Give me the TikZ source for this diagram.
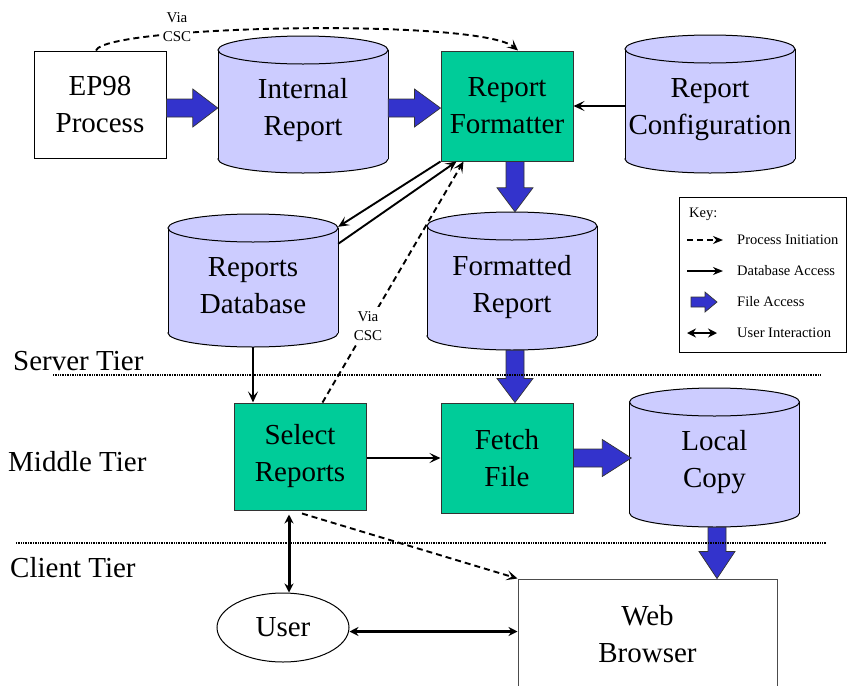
\documentclass[tikz,border=0pt]{standalone}
\usepackage{fontspec}
\setmainfont{Liberation Serif}
\usetikzlibrary{shapes.geometric,arrows.meta,calc}
\definecolor{lav}{HTML}{CCCCFF}
\definecolor{grn}{HTML}{00CC99}
\definecolor{blu}{HTML}{3333CC}
\newcommand\blkH[5]{\filldraw[blk] ($#1+(0,-#3)$) -- ($#2+(-#5,-#3)$) -- ($#2+(-#5,-#4)$) -- #2 -- ($#2+(-#5,#4)$) -- ($#2+(-#5,#3)$) -- ($#1+(0,#3)$) -- cycle;}
\newcommand\blkV[5]{\filldraw[blk] ($#1+(-#3,0)$) -- ($#2+(-#3,-#5)$) -- ($#2+(-#4,-#5)$) -- #2 -- ($#2+(#4,-#5)$) -- ($#2+(#3,-#5)$) -- ($#1+(#3,0)$) -- cycle;}
\newcommand\mycyl[4]{%
  \filldraw[cylline] (#2,#4-14) ellipse [x radius=85pt, y radius=14pt];
  \fill[lav] (#2-85,#3+14) rectangle (#2+85,#4-14);
  \draw[line width=1pt] (#2-85,#3+14) -- (#2-85,#4-14) (#2+85,#3+14) -- (#2+85,#4-14);
  \filldraw[cylline] (#2,#3+14) ellipse [x radius=85pt, y radius=14pt];
  \node[cylbb, minimum height=#4-#3] (#1) at (#2,{(#3+#4)/2}) {};
}
\begin{document}
\begin{tikzpicture}[x=1pt,y=-1pt,
  big/.style={font=\fontsize{29}{37}\selectfont, align=center},
  boxg/.style={draw=black!80, fill=grn, line width=1pt, inner sep=0pt, big, minimum width=132pt},
  boxw/.style={draw=black, fill=white, line width=1pt, inner sep=0pt, big, minimum width=132pt},
  cylbb/.style={inner sep=0pt, minimum width=170pt},
  cylline/.style={draw=black, line width=1pt, fill=lav},
  conn/.style={line width=1.9pt, -{Stealth[length=11pt,width=10pt,inset=5pt]}},
  dsh/.style={conn, dash pattern=on 6pt off 4pt},
  dbl/.style={line width=3pt, {Stealth[length=9pt,width=9pt]}-{Stealth[length=9pt,width=9pt]}},
  blk/.style={fill=blu, draw=black!80, line width=0.7pt},
  tier/.style={line width=2.2pt, dash pattern=on 1pt off 0.7pt},
  small/.style={font=\fontsize{14.5}{17}\selectfont, inner sep=0pt, anchor=west},
  via/.style={font=\fontsize{15}{19}\selectfont, align=center, fill=white, inner sep=2pt}]
\useasboundingbox (0,0) rectangle (847,686);

% cylinders
\mycyl{ir}{303}{36}{173}
\mycyl{cfg}{710}{35}{173}
\mycyl{db}{253}{214}{347}
\mycyl{fr}{512}{212}{350}
\mycyl{lc}{714.5}{388}{527}
\node[big] (ir-t) at (303,110) {Internal\\Report};
\node[big] (cfg-t) at (710,110) {Report\\Configuration};
\node[big] (db-t) at (253,286) {Reports\\Database};
\node[big] (fr-t) at (512,287) {Formatted\\Report};
\node[big] (lc-t) at (714.5,462) {Local\\Copy};

% boxes
\node[boxw, minimum height=107pt] (ep) at (100,104.5) {EP98\\Process};
\node[boxg, minimum height=110pt] (rf) at (507,106) {Report\\Formatter};
\node[boxg, minimum height=107pt] (sr) at (300,456.5) {Select\\Reports};
\node[boxg, minimum height=110pt] (ff) at (507,458) {Fetch\\File};
\node[draw=black!70, line width=1pt, minimum width=259pt, minimum height=110pt, inner sep=0pt, big] (wb) at (647.5,634) {Web\\Browser};
\node[draw, ellipse, line width=1pt, minimum width=132pt, minimum height=69pt, inner sep=0pt, big] (user) at (283,627.5) {User};

% tier labels
\node[big, anchor=base west, inner sep=0pt] (st) at (13,370) {Server Tier};
\node[big, anchor=base west, inner sep=0pt] (mt) at (8,471) {Middle Tier};
\node[big, anchor=base west, inner sep=0pt] (ct) at (10,577) {Client Tier};

% helper coordinates
\coordinate (h108) at (0,108);
\coordinate (v515) at (515,0);
\coordinate (v717) at (717,0);

% file access arrows
\blkH{(ep.east |- h108)}{(ir.west |- h108)}{9}{19}{25}
\blkH{(ir.east |- h108)}{(rf.west |- h108)}{9}{19}{26}
\blkV{(v515 |- rf.south)}{(v515 |- fr.north)}{9}{18}{24}
\blkV{(v515 |- fr.south)}{(v515 |- ff.north)}{9}{18}{24}
\blkH{(ff.east)}{($(lc.west |- ff.east)+(2,0)$)}{9}{18.5}{29}
\blkV{(v717 |- lc.south)}{(v717 |- wb.north)}{9}{18}{27}

% tier lines
\draw[tier] (53,375) -- (820,375);
\draw[tier] (16,543) -- (826,543);

% database access
\draw[conn] (cfg.west |- rf.east) -- (rf.east);
\draw[conn] (rf.south west) -- ([yshift=-13pt]db.north east);
\draw[conn] ([yshift=-30pt]db.north east) -- ([xshift=16pt]rf.south west);
\draw[conn] (db.south) -- (db.south |- sr.north);
\draw[conn] (sr.east |- ff.west) -- (ff.west);

% process initiation
\draw[dsh] ([xshift=-4pt]ep.north) .. controls (105,25) and (480,18) .. ([xshift=11pt]rf.north);
\node[via] (via1) at (177,27) {Via\\CSC};
\draw[dsh] ([xshift=89pt]sr.north west) -- ([xshift=23pt]rf.south west);
\node[via, inner sep=4pt] (via2) at (368,326) {Via\\CSC};
\draw[dsh] ([xshift=2pt,yshift=-3pt]sr.south) -- (wb.north west);

% user interaction
\coordinate (u1) at ([xshift=6pt]user.north);
\coordinate (u2) at ([yshift=-4pt]user.east);
\draw[dbl, shorten <=4pt] (u1 |- sr.south) -- (u1);
\draw[dbl] (u2) -- (wb.west |- u2);

% key
\node[draw, line width=1pt, minimum width=167pt, minimum height=155pt, inner sep=0pt] (key) at (762.5,274.5) {};
\node[small] (keyt) at (689,214) {Key:};
\coordinate (k1a) at (687,240); \coordinate (k1b) at (723,240);
\coordinate (k2a) at (687,271); \coordinate (k2b) at (723,271);
\coordinate (k3a) at (691,302); \coordinate (k3b) at (717,302);
\coordinate (k4a) at (687,333); \coordinate (k4b) at (717,333);
\draw[dsh, -{Stealth[length=10pt,width=8pt]}] (k1a) -- (k1b);
\draw[conn, -{Stealth[length=10pt,width=8pt]}] (k2a) -- (k2b);
\blkH{(k3a)}{(k3b)}{5}{10}{12}
\draw[dbl, line width=2.6pt] (k4a) -- (k4b);
\node[small] (k1t) at (737,240) {Process Initiation};
\node[small] (k2t) at (737,271) {Database Access};
\node[small] (k3t) at (737,302) {File Access};
\node[small] (k4t) at (737,333) {User Interaction};
\end{tikzpicture}
\end{document}
